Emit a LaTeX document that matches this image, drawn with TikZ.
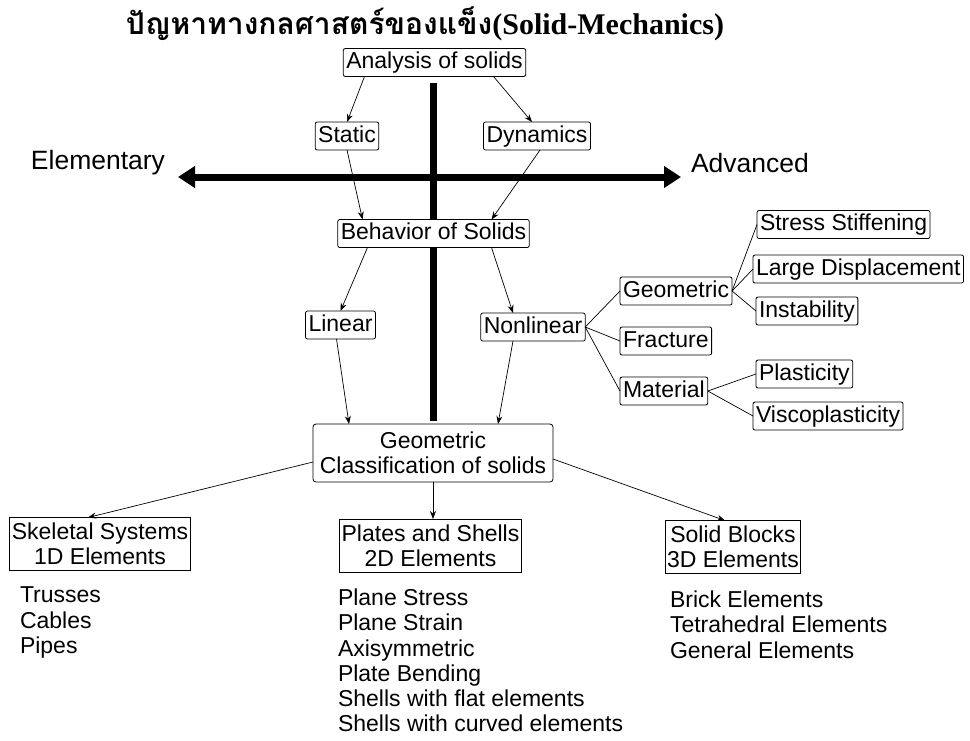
\documentclass[tikz,border=0pt]{standalone}
\usepackage{fontspec}
\setmainfont{Liberation Sans}
\newfontfamily\thaifont[Script=Thai]{Loma}
\newfontfamily\titlefont{Liberation Serif}
\usetikzlibrary{arrows.meta,positioning}

\begin{document}
\begin{tikzpicture}[x=1pt,y=-1pt,node distance=0pt,outer sep=0pt]
\tikzstyle{box}=[draw, fill=white, rounded corners=2pt, line width=0.8pt, inner xsep=3pt,
    inner ysep=3pt, text height=17pt, text depth=5pt,
    font=\fontsize{23}{25}\selectfont]
\tikzstyle{bigbox}=[draw, fill=white, rounded corners=3pt, line width=0.8pt, align=center,
    minimum width=240pt, minimum height=58pt, font=\fontsize{23}{25}\selectfont]
\tikzstyle{sqbox}=[draw, line width=0.8pt, align=center, inner xsep=2pt,
    minimum height=53pt, font=\fontsize{23}{25}\selectfont]
\tikzstyle{list}=[align=left, anchor=north west, inner sep=0pt,
    font=\fontsize{23}{25.2}\selectfont]
\tikzstyle{side}=[font=\fontsize{26.5}{28}\selectfont]
\tikzstyle{arr}=[-{Stealth[length=8pt,width=6pt]}, line width=0.7pt]
\tikzstyle{branch}=[line width=0.7pt]
\tikzstyle{axis}=[line width=7pt]
\useasboundingbox (0,0) rectangle (970,740);

% title
\node (title) [anchor=base] at (425,34)
    {\fontsize{30}{32}\selectfont\thaifont\bfseries ปัญหาทางกลศาสตร์ของแข็ง\titlefont(Solid-Mechanics)};

% axes
\coordinate (vtop) at (433,83);
\coordinate (vbot) at (433,421);
\coordinate (hleft) at (178,177);
\coordinate (hright) at (681,177);
\draw[axis] (vtop) -- (vbot);
\draw[axis, {Triangle[length=17pt,width=21pt]}-{Triangle[length=17pt,width=21pt]}] (hleft) -- (hright);
\node (elementary) [side] at (98,163) {Elementary};
\node (advanced) [side] at (750,163) {Advanced};

% upper part
\node (analysis) [box] at (434.5,62.5) {Analysis of solids};
\node (static) [box] at (347,136) {Static};
\node (dynamics) [box] at (537,136) {Dynamics};
\node (behavior) [box] at (433.5,233.5) {Behavior of Solids};
\node (linear) [box] at (340.5,325) {Linear};
\node (nonlinear) [box] at (533,327) {Nonlinear};

% nonlinear tree
\node (geometric) [box,anchor=west] at (620,291) {Geometric};
\node (fracture) [box,anchor=west] at (620,341) {Fracture};
\node (material) [box,anchor=west] at (620,391) {Material};
\node (stress) [box,anchor=west] at (757,224.5) {Stress Stiffening};
\node (large) [box,anchor=west] at (753,269) {Large Displacement};
\node (instab) [box,anchor=west] at (756,311) {Instability};
\node (plast) [box,anchor=west] at (756,374) {Plasticity};
\node (visco) [box,anchor=west] at (753,416) {Viscoplasticity};

% classification
\node (geoclass) [bigbox] at (433,453) {Geometric\\Classification of solids};
\node (skeletal) [sqbox] at (100,544) {Skeletal Systems\\1D Elements};
\node (plates) [sqbox] at (430.5,545.5) {Plates and Shells\\2D Elements};
\node (solid) [sqbox] at (733,547) {Solid Blocks\\3D Elements};

\node (list1) [list] at (20,587) {Trusses\\Cables\\Pipes};
\node (list2) [list] at (338,589) {Plane Stress\\Plane Strain\\Axisymmetric\\Plate Bending\\Shells with flat elements\\Shells with curved elements};
\node (list3) [list] at (670,591) {Brick Elements\\Tetrahedral Elements\\General Elements};

% connectors
\draw[arr] ([xshift=-70pt]analysis.south) -- (static.north);
\draw[arr] ([xshift=59pt]analysis.south) -- ([xshift=-5pt]dynamics.north);
\draw[arr] (static.south) -- ([xshift=-71pt]behavior.north);
\draw[arr] ([xshift=3pt]dynamics.south) -- ([xshift=58pt]behavior.north);
\draw[arr] ([xshift=-66pt]behavior.south) -- (linear.north);
\draw[arr] ([xshift=58pt]behavior.south) -- ([xshift=-20pt]nonlinear.north);
\draw[arr] ([xshift=-4pt]linear.south) -- ([xshift=-84pt]geoclass.north);
\draw[arr] ([xshift=-20pt]nonlinear.south) -- ([xshift=65pt]geoclass.north);
\draw[branch] (nonlinear.east) -- (geometric.west);
\draw[branch] (nonlinear.east) -- (fracture.west);
\draw[branch] (nonlinear.east) -- (material.west);
\draw[branch] (geometric.east) -- (stress.west);
\draw[branch] (geometric.east) -- (large.west);
\draw[branch] (geometric.east) -- (instab.west);
\draw[branch] (material.east) -- (plast.west);
\draw[branch] (material.east) -- (visco.west);
\draw[arr] ([yshift=-9pt]geoclass.west) -- ([xshift=-12pt]skeletal.north);
\draw[arr] (geoclass.south) -- (geoclass.south |- plates.north);
\draw[arr] ([yshift=-6pt]geoclass.east) -- ([xshift=-8pt]solid.north);
\end{tikzpicture}
\end{document}
